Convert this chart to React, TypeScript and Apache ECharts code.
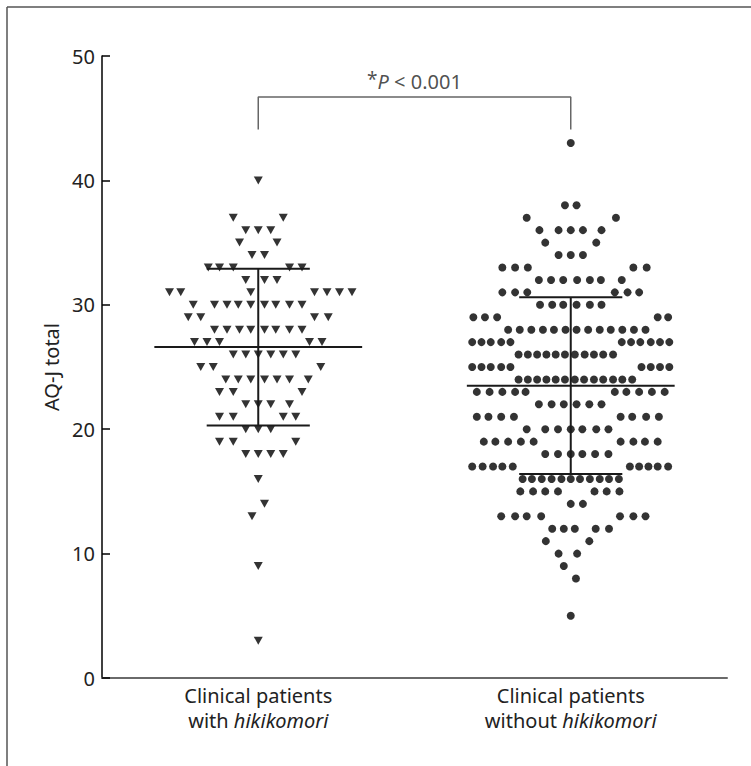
import React, { useEffect, useRef } from "react";
import * as echarts from "echarts";

// ---- data ----
const CATEGORIES = [
  "Clinical patients\nwith {i|hikikomori}",
  "Clinical patients\nwithout {i|hikikomori}",
];
const Y_NAME = "AQ-J total";
const Y_MIN = 0;
const Y_MAX = 50;
const Y_INTERVAL = 10;

// group centres on the hidden value x-axis
const X_MIN = 0;
const X_MAX = 4;
const CENTER_WITH = 1;
const CENTER_WITHOUT = 3;

// [score, jitter offsets in marker-steps]
const WITH_ROWS: [number, number[]][] = [
  [40, [0]],
  [37, [-2, 2]],
  [36, [-1, 0, 1]],
  [35, [-1.5, 1.5]],
  [34, [-0.5, 0.5]],
  [33, [-4, -3.1, -2, 2.5, 3.5]],
  [32, [-1, 0.5, 1.5]],
  [31, [-7.1, -6.2, -0.6, 4.5, 5.5, 6.5, 7.5]],
  [30, [-5.2, -3.5, -2.5, -1.6, -0.6, 0.5, 1.4, 2.5, 3.5]],
  [29, [-5.6, -4.6, 4.5, 5.6]],
  [28, [-3.5, -2.5, -1.5, -0.6, 0.5, 1.4, 2.5, 3.5]],
  [27, [-5.1, -4.1, -3.1, 4.1, 5.1]],
  [26, [-2, -1, 0, 1, 2, 3]],
  [25, [-4.6, -3.6, 5]],
  [24, [-2.6, -1.6, -0.6, 0.5, 1.5, 2.5, 4]],
  [23, [-3.1, -2, 3.5]],
  [22, [-1, 0, 1, 2.5]],
  [21, [-3.1, -2, 2, 3]],
  [20, [-1, 0, 1]],
  [19, [-3.1, -2, 3]],
  [18, [-1, 0, 1, 2]],
  [16, [0]],
  [14, [0.5]],
  [13, [-0.5]],
  [9, [0]],
  [3, [0]],
];

const WITHOUT_ROWS: [number, number[]][] = [
  [43, [0]],
  [38, [-0.5, 0.5]],
  [37, [-3.8, 3.9]],
  [36, [-2.7, -1.05, 0, 1.05, 2.65]],
  [35, [-2.2, 2.2]],
  [34, [-1.05, 0, 1.05]],
  [33, [-5.9, -4.8, -3.7, 5.4, 6.55]],
  [32, [-2.75, -1.7, -0.65, 0.55, 1.65, 2.6, 4.4]],
  [31, [-5.9, -4.8, -3.75, 3.8, 4.9, 5.9]],
  [30, [-2.65, -1.6, -0.65, 0.5, 1.65, 2.65]],
  [29, [-8.4, -7.4, -6.35, 7.5, 8.4]],
  [28, [-5.4, -4.4, -3.4, -2.4, -1.45, -0.45, 0.5, 1.5, 2.5, 3.45, 4.45, 5.45, 6.45]],
  [27, [-8.5, -7.7, -6.9, -6.0, -5.2, 4.4, 5.2, 6.0, 6.9, 7.7, 8.5]],
  [26, [-4.5, -3.7, -2.9, -2.1, -1.3, -0.5, 0.35, 1.2, 2.0, 2.8, 3.65]],
  [25, [-8.5, -7.7, -6.9, -6.0, -5.2, 6.1, 6.9, 7.7, 8.5]],
  [24, [-4.5, -3.7, -2.9, -2.1, -1.3, -0.5, 0.35, 1.15, 2.0, 2.8, 3.65, 4.45, 5.3]],
  [23, [-8.1, -7.0, -5.9, -4.8, -3.9, 3.8, 4.8, 5.9, 7.0, 8.1]],
  [22, [-2.75, -1.65, -0.6, 0.5, 1.6, 2.65]],
  [21, [-8.1, -7.1, -6.0, -4.9, 4.3, 5.3, 6.5, 7.6]],
  [20, [-3.8, -2.2, -1.1, 0, 1.0, 2.2, 3.25]],
  [19, [-7.5, -6.5, -5.4, -4.3, -3.2, 4.3, 5.4, 6.4, 7.5]],
  [18, [-2.2, -1.1, 0, 1.0, 2.1, 3.25]],
  [17, [-8.5, -7.6, -6.7, -5.9, -5.0, 5.1, 5.9, 6.7, 7.5, 8.4]],
  [16, [-4.15, -3.35, -2.5, -1.65, -0.8, 0, 0.8, 1.65, 2.5, 3.3, 4.15]],
  [15, [-4.35, -3.25, -2.2, -1.1, 2.05, 3.1, 4.2]],
  [14, [0, 1.05]],
  [13, [-6.0, -4.8, -3.8, -2.55, 4.25, 5.4, 6.45]],
  [12, [-1.6, -0.6, 0.35, 2.15, 3.3]],
  [11, [-2.15, 1.6]],
  [10, [-1.05, 0.55]],
  [9, [-0.6]],
  [8, [0.45]],
  [5, [0]],
];

// mean and SD
const WITH_MEAN = 26.6;
const WITH_SD = 6.3;
const WITHOUT_MEAN = 23.5;
const WITHOUT_SD = 7.1;

// significance bracket
const BRACKET_LOW = 44.1;
const BRACKET_HIGH = 46.7;

// ---- styling constants ----
const STEP_WITH = 0.08; // x-units per triangle step
const STEP_WITHOUT = 0.0742; // x-units per circle step
const MEAN_HALF = 0.665;
const SD_HALF = 0.33;
const FONT = "'Noto Sans', 'DejaVu Sans', sans-serif";
const TEXT_COLOR = "#222";
const FS = 20;

function rowsToPoints(rows: [number, number[]][], center: number, step: number) {
  const pts: number[][] = [];
  rows.forEach(([v, offs]) => offs.forEach((o) => pts.push([center + o * step, v])));
  return pts;
}

function seg(a: number[], b: number[], color = "#1a1a1a", width = 2) {
  return {
    type: "line",
    xAxisIndex: 1,
    data: [a, b],
    symbol: "none",
    silent: true,
    lineStyle: { color, width },
    z: 3,
  };
}

function summarySeries(center: number, mean: number, sd: number) {
  return [
    seg([center - MEAN_HALF, mean], [center + MEAN_HALF, mean]),
    seg([center - SD_HALF, mean + sd], [center + SD_HALF, mean + sd]),
    seg([center - SD_HALF, mean - sd], [center + SD_HALF, mean - sd]),
    seg([center, mean - sd], [center, mean + sd]),
  ];
}

export default function App() {
  const ref = useRef<HTMLDivElement>(null);
  useEffect(() => {
    if (!ref.current) return;
    const chart = echarts.init(ref.current, undefined, { renderer: "svg" });
    const option: any = {
      animation: false,
      backgroundColor: "#fff",
      grid: { left: 102, right: 24, top: 56, bottom: 88 },
      xAxis: [
        {
          type: "category",
          data: CATEGORIES,
          boundaryGap: true,
          axisLine: { lineStyle: { color: "#6a6a6a", width: 2 } },
          axisTick: { show: false },
          axisLabel: {
            interval: 0,
            hideOverlap: false,
            fontFamily: FONT,
            fontSize: FS,
            color: TEXT_COLOR,
            lineHeight: 25,
            margin: 5,
            rich: {
              i: { fontFamily: FONT, fontSize: FS, fontStyle: "italic", color: TEXT_COLOR, lineHeight: 25 },
            },
          },
        },
        { type: "value", min: X_MIN, max: X_MAX, show: false },
      ],
      yAxis: {
        type: "value",
        min: Y_MIN,
        max: Y_MAX,
        interval: Y_INTERVAL,
        name: Y_NAME,
        nameLocation: "middle",
        nameGap: 38,
        nameTextStyle: { fontFamily: FONT, fontSize: FS, color: TEXT_COLOR },
        axisLine: { show: true, lineStyle: { color: "#000", width: 1.5 } },
        axisTick: { show: true, inside: true, length: 8, lineStyle: { color: "#000", width: 1.5 } },
        axisLabel: { fontFamily: FONT, fontSize: FS, color: TEXT_COLOR, margin: 7 },
        splitLine: { show: false },
      },
      graphic: [
        { type: "line", shape: { x1: 7, y1: 7, x2: 751, y2: 7 }, style: { stroke: "#555", lineWidth: 1.5 } },
        { type: "line", shape: { x1: 7, y1: 7, x2: 7, y2: 766 }, style: { stroke: "#555", lineWidth: 1.5 } },
      ],
      series: [
        {
          type: "scatter",
          name: "with",
          xAxisIndex: 1,
          data: rowsToPoints(WITH_ROWS, CENTER_WITH, STEP_WITH),
          symbol: "triangle",
          symbolRotate: 180,
          symbolSize: [9, 8],
          itemStyle: { color: "#000" },
          z: 2,
        },
        {
          type: "scatter",
          name: "without",
          xAxisIndex: 1,
          data: rowsToPoints(WITHOUT_ROWS, CENTER_WITHOUT, STEP_WITHOUT),
          symbol: "circle",
          symbolSize: 8,
          itemStyle: { color: "#000" },
          z: 2,
        },
        ...summarySeries(CENTER_WITH, WITH_MEAN, WITH_SD),
        ...summarySeries(CENTER_WITHOUT, WITHOUT_MEAN, WITHOUT_SD),
        {
          type: "line",
          xAxisIndex: 1,
          data: [
            [CENTER_WITH, BRACKET_LOW],
            [CENTER_WITH, BRACKET_HIGH],
            [CENTER_WITHOUT, BRACKET_HIGH],
            [CENTER_WITHOUT, BRACKET_LOW],
          ],
          symbol: "none",
          silent: true,
          lineStyle: { color: "#666", width: 1.5 },
        },
        {
          type: "scatter",
          xAxisIndex: 1,
          data: [[(CENTER_WITH + CENTER_WITHOUT) / 2, BRACKET_HIGH]],
          symbolSize: 0,
          silent: true,
          label: {
            show: true,
            position: "top",
            distance: 3,
            formatter: "{s|*}{p|P}{t| < 0.001}",
            rich: {
              s: { fontFamily: FONT, fontSize: 19, color: TEXT_COLOR, verticalAlign: "top", padding: [0, 0, 6, 0] },
              p: { fontFamily: FONT, fontSize: FS, fontStyle: "italic", color: TEXT_COLOR },
              t: { fontFamily: FONT, fontSize: FS, color: TEXT_COLOR },
            },
          },
        },
      ],
    };
    chart.setOption(option);
    return () => chart.dispose();
  }, []);
  return (
    <div
      ref={ref}
      style={{ position: "fixed", left: 0, top: 0, width: 751, height: 766, background: "#fff" }}
    />
  );
}
